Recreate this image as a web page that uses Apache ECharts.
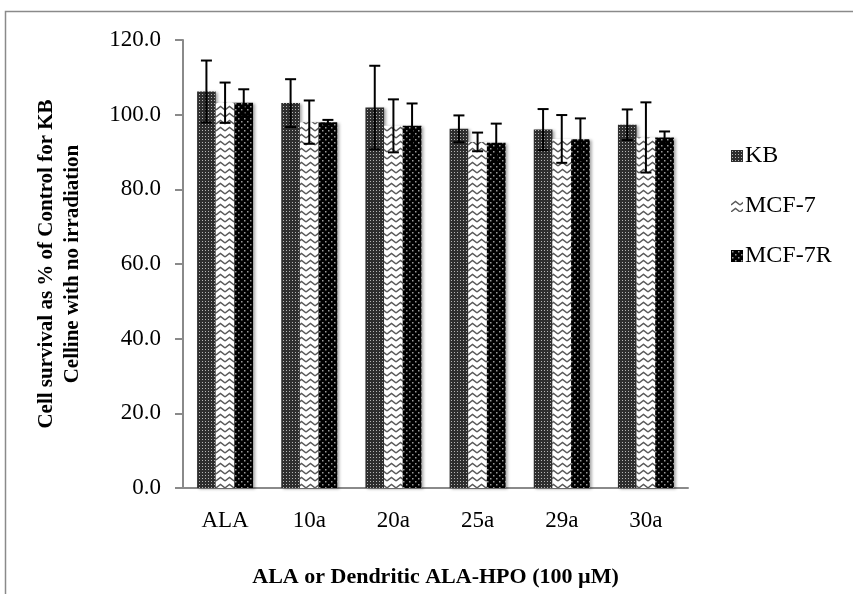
<!DOCTYPE html>
<html>
<head>
<meta charset="utf-8">
<script src="https://cdn.jsdelivr.net/npm/echarts@6/dist/echarts.min.js"></script>
<style>
  html, body { margin: 0; padding: 0; background: #fff; }
  #main { width: 853px; height: 594px; }
</style>
</head>
<body>
<div id="main"></div>
<script>
var categories = ['ALA', '10a', '20a', '25a', '29a', '30a'];
var seriesNames = ['KB', 'MCF-7', 'MCF-7R'];
var kbValues = [106.2, 103.1, 101.9, 96.2, 96.0, 97.3];
var kbErrors = [8.3, 6.4, 11.2, 3.6, 5.5, 4.1];
var mcf7Values = [103.2, 98.0, 97.0, 92.7, 93.5, 93.9];
var mcf7Errors = [5.4, 5.8, 7.1, 2.5, 6.4, 9.4];
var mcf7rValues = [103.2, 98.0, 97.0, 92.5, 93.4, 93.9];
var mcf7rErrors = [3.6, 0.6, 6.0, 5.1, 5.6, 1.6];

var font = '"Liberation Serif", "Times New Roman", serif';

// fill patterns like the excel ones
function dotsPattern() {
  var c = document.createElement('canvas');
  c.width = 3; c.height = 3;
  var ctx = c.getContext('2d');
  ctx.fillStyle = '#2e2e2e';
  ctx.fillRect(0, 0, 3, 3);
  ctx.fillStyle = '#b5b5b5';
  ctx.fillRect(1, 1, 1, 1);
  return c;
}
function zigzagPattern() {
  var c = document.createElement('canvas');
  c.width = 9; c.height = 7;
  var ctx = c.getContext('2d');
  ctx.fillStyle = '#fff';
  ctx.fillRect(0, 0, 9, 7);
  ctx.strokeStyle = '#5a5a5a';
  ctx.lineWidth = 1.4;
  ctx.beginPath();
  ctx.moveTo(0, 5);
  ctx.lineTo(4.5, 1.5);
  ctx.lineTo(9, 5);
  ctx.stroke();
  return c;
}
function blackDotsPattern() {
  var c = document.createElement('canvas');
  c.width = 6; c.height = 6;
  var ctx = c.getContext('2d');
  ctx.fillStyle = '#000';
  ctx.fillRect(0, 0, 6, 6);
  ctx.fillStyle = '#9a9a9a';
  ctx.fillRect(1, 1, 1.5, 1.5);
  ctx.fillRect(4, 4, 1.5, 1.5);
  return c;
}

var fills = [
  { image: dotsPattern(), repeat: 'repeat' },
  { image: zigzagPattern(), repeat: 'repeat' },
  { image: blackDotsPattern(), repeat: 'repeat' }
];
var allValues = [kbValues, mcf7Values, mcf7rValues];
var allErrors = [kbErrors, mcf7Errors, mcf7rErrors];
var gapPct = 0.335;

function errorSeries(k) {
  var data = [];
  for (var i = 0; i < categories.length; i++) {
    data.push([i, allValues[k][i] - allErrors[k][i], allValues[k][i] + allErrors[k][i]]);
  }
  return {
    type: 'custom',
    name: seriesNames[k] + ' err',
    z: 10,
    silent: true,
    data: data,
    renderItem: function (params, api) {
      var band = api.size([1, 0])[0];
      var groupW = band * (1 - gapPct);
      var barW = groupW / 3;
      var lo = api.coord([api.value(0), api.value(1)]);
      var hi = api.coord([api.value(0), api.value(2)]);
      var x = lo[0] - groupW / 2 + barW * (k + 0.5);
      var cap = 5.5;
      var st = { stroke: '#000', lineWidth: 2 };
      return {
        type: 'group',
        children: [
          { type: 'line', shape: { x1: x, y1: lo[1], x2: x, y2: hi[1] }, style: st },
          { type: 'line', shape: { x1: x - cap, y1: hi[1], x2: x + cap, y2: hi[1] }, style: st },
          { type: 'line', shape: { x1: x - cap, y1: lo[1], x2: x + cap, y2: lo[1] }, style: st }
        ]
      };
    }
  };
}

var series = [];
for (var k = 0; k < 3; k++) {
  series.push({
    type: 'bar',
    name: seriesNames[k],
    data: allValues[k],
    barGap: '0%',
    barCategoryGap: (gapPct * 100) + '%',
    itemStyle: {
      color: fills[k],
      shadowColor: 'rgba(0,0,0,0.35)',
      shadowBlur: 3,
      shadowOffsetX: 2,
      shadowOffsetY: 1
    }
  });
}
for (var k = 0; k < 3; k++) {
  series.push(errorSeries(k));
}

var chart = echarts.init(document.getElementById('main'));
chart.setOption({
  animation: false,
  backgroundColor: '#fff',
  textStyle: { fontFamily: font },
  graphic: [{
    type: 'rect',
    shape: { x: 5.5, y: 11.5, width: 900, height: 700 },
    style: { fill: 'none', stroke: '#8a8a8a', lineWidth: 1.5 },
    silent: true
  }],
  grid: { left: 183, right: 165, top: 40, bottom: 106 },
  legend: {
    orient: 'vertical',
    left: 726,
    top: 139,
    itemWidth: 12,
    itemHeight: 12,
    itemGap: 26,
    icon: 'rect',
    data: seriesNames,
    textStyle: { fontFamily: font, fontSize: 24, color: '#000', padding: [0, 0, 0, -3] }
  },
  xAxis: {
    type: 'category',
    data: categories,
    axisLine: { lineStyle: { color: '#8a8a8a', width: 2 } },
    axisTick: { show: false },
    axisLabel: { fontFamily: font, fontSize: 23, color: '#000', margin: 21 },
    name: 'ALA or Dendritic ALA-HPO (100 µM)',
    nameLocation: 'middle',
    nameGap: 78,
    nameTextStyle: { fontFamily: font, fontSize: 22, fontWeight: 'bold', color: '#000' }
  },
  yAxis: {
    type: 'value',
    min: 0,
    max: 120,
    interval: 20,
    splitLine: { show: false },
    axisLine: { show: true, lineStyle: { color: '#8a8a8a', width: 2 } },
    axisTick: { show: true, length: 8, lineStyle: { color: '#8a8a8a', width: 2 } },
    axisLabel: {
      fontFamily: font, fontSize: 23, color: '#000', margin: 22,
      formatter: function (v) { return v.toFixed(1); }
    },
    name: 'Cell survival as % of Control for KB\nCelline with no irradiation',
    nameLocation: 'middle',
    nameGap: 97,
    nameTextStyle: { fontFamily: font, fontSize: 21, fontWeight: 'bold', color: '#000', lineHeight: 26 }
  },
  series: series
});
</script>
</body>
</html>
